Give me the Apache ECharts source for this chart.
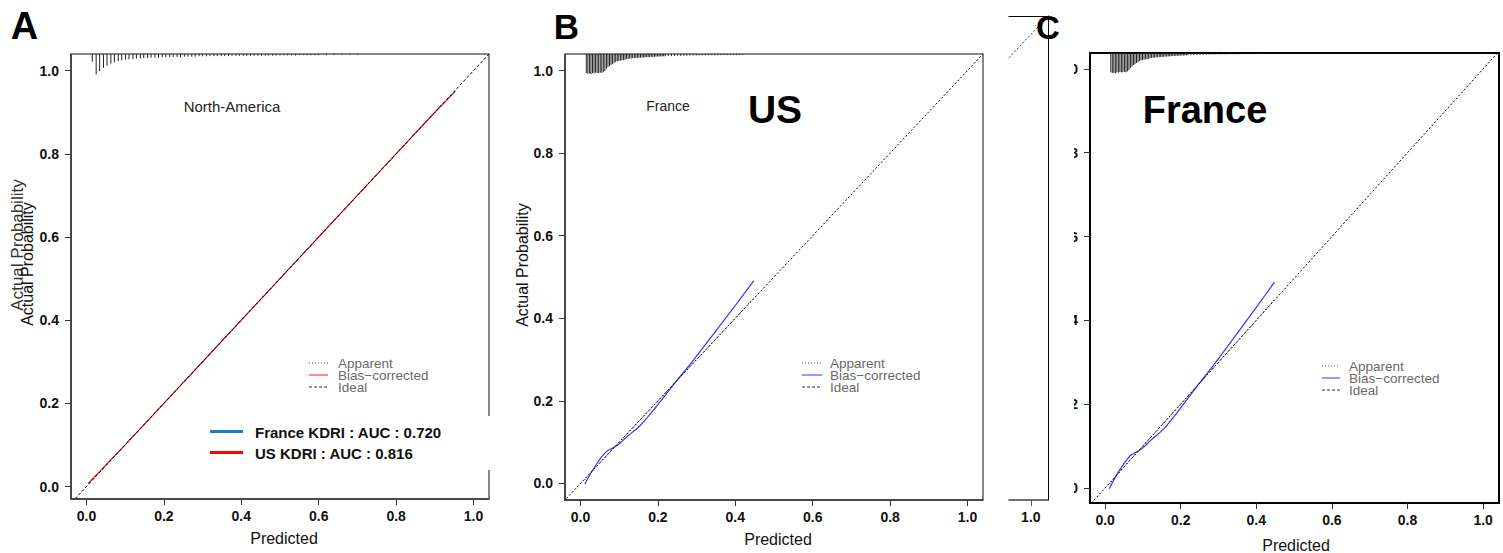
<!DOCTYPE html>
<html>
<head>
<meta charset="utf-8">
<script src="https://cdn.jsdelivr.net/npm/echarts@6/dist/echarts.min.js"></script>
<style>html,body{margin:0;padding:0;background:#fff}#c{width:1503px;height:553px}</style>
</head>
<body>
<div id="c"></div>
<script>
// ---------- data ----------
const tickValues = [0, 0.2, 0.4, 0.6, 0.8, 1.0];
const idealLine = [[-0.1, -0.1], [1.1, 1.1]];

// Panel A : North-America (US KDRI)
const naBiasX = [0.005, 0.1, 0.2, 0.3, 0.4, 0.5, 0.6, 0.7, 0.8, 0.9, 0.953];
const naBiasY = [0.008, 0.1, 0.2, 0.3, 0.4, 0.5, 0.6, 0.7, 0.8, 0.9, 0.950];
const naApparentX = [0.005, 0.2, 0.4, 0.6, 0.8, 0.953];
const naApparentY = [0.007, 0.2, 0.4, 0.6, 0.8, 0.951];
const naRugX = [0.015,0.025,0.034,0.044,0.053,0.063,0.072,0.082,0.091,0.101,0.110,0.120,0.129,0.139,0.148,0.158,0.167,0.177,0.186,0.196,0.205,0.215,0.224,0.234,0.243,0.253,0.262,0.272,0.281,0.291,0.300,0.310,0.319,0.329,0.338,0.348,0.357,0.367,0.376,0.386,0.395,0.405,0.414,0.424,0.433,0.443,0.452,0.462,0.471,0.481,0.490,0.500,0.510,0.520,0.530,0.540,0.550,0.560,0.570,0.580,0.590,0.600,0.620,0.640,0.660,0.680,0.700];
const naRugLen = [0.0185,0.049,0.041,0.033,0.028,0.023,0.020,0.017,0.015,0.0137,0.0127,0.012,0.0113,0.0103,0.0096,0.0096,0.0089,0.0089,0.0089,0.008,0.008,0.008,0.0072,0.0072,0.0072,0.0065,0.0065,0.0065,0.0065,0.0055,0.0055,0.0055,0.005,0.005,0.005,0.005,0.005,0.005,0.0045,0.0045,0.0045,0.0045,0.0045,0.004,0.004,0.004,0.004,0.004,0.004,0.004,0.0035,0.0035,0.0035,0.0035,0.0035,0.0035,0.003,0.003,0.003,0.003,0.003,0.003,0.003,0.0025,0.0025,0.0025,0.0025];

// Panels B and C : France
const frBiasX = [0.011, 0.026, 0.043, 0.056, 0.069, 0.082, 0.099, 0.120, 0.155, 0.189, 0.240, 0.292, 0.352, 0.400, 0.448];
const frBiasY = [-0.002, 0.024, 0.049, 0.066, 0.079, 0.085, 0.095, 0.113, 0.141, 0.178, 0.239, 0.299, 0.372, 0.431, 0.491];
const frApparentX = [0.011, 0.05, 0.1, 0.2, 0.3, 0.4, 0.448];
const frApparentY = [0.009, 0.05, 0.1, 0.2, 0.3, 0.4, 0.450];
const frRugX = [0.015,0.019,0.023,0.027,0.031,0.035,0.039,0.043,0.047,0.051,0.055,0.059,0.063,0.067,0.071,0.075,0.079,0.083,0.087,0.091,0.095,0.099,0.103,0.107,0.111,0.115,0.119,0.123,0.127,0.131,0.135,0.139,0.143,0.147,0.151,0.155,0.159,0.163,0.167,0.171,0.175,0.179,0.183,0.187,0.191,0.195,0.199,0.203,0.207,0.211,0.215,0.219,0.227,0.235,0.243,0.251,0.259,0.267,0.275,0.283,0.291,0.299,0.307,0.315,0.323,0.331,0.339,0.347,0.355,0.363,0.371,0.379,0.387,0.395,0.403,0.411,0.419];
const frRugLen = [0.046,0.048,0.047,0.049,0.046,0.047,0.045,0.046,0.046,0.045,0.046,0.044,0.041,0.036,0.032,0.029,0.027,0.024,0.022,0.019,0.018,0.017,0.016,0.015,0.015,0.014,0.012,0.012,0.011,0.011,0.010,0.010,0.0097,0.0095,0.009,0.009,0.0085,0.0085,0.008,0.008,0.0075,0.0073,0.007,0.007,0.0068,0.0065,0.0063,0.006,0.006,0.0058,0.0055,0.0053,0.005,0.005,0.0048,0.0045,0.0045,0.0043,0.004,0.004,0.0038,0.0036,0.0035,0.0034,0.0033,0.0032,0.003,0.003,0.003,0.0028,0.0028,0.0027,0.0026,0.0025,0.0025,0.0025,0.0025];

// ---------- helpers ----------
const FONT = "'Liberation Sans', Arial, Helvetica, sans-serif";
const zip = (xs, ys) => xs.map((x, i) => [x, ys[i]]);
const fmt = v => v.toFixed(1);

function rugSeries(xi, yi, xs, lens, ymax) {
  return {
    type: 'custom', xAxisIndex: xi, yAxisIndex: yi, silent: true,
    data: zip(xs, lens),
    renderItem: (params, api) => {
      const x = api.value(0), len = api.value(1);
      const a = api.coord([x, ymax]);
      const b = api.coord([x, ymax - len]);
      return { type: 'line', shape: { x1: a[0], y1: a[1], x2: b[0], y2: b[1] },
               style: { stroke: '#222', lineWidth: 1 } };
    }
  };
}
function lineSeries(xi, yi, data, color, type, width, z) {
  return { type: 'line', xAxisIndex: xi, yAxisIndex: yi, data, symbol: 'none', clip: true,
           silent: true, smooth: false, z: z || 2,
           lineStyle: { color, type, width: width || 1 } };
}
function xAxisDef(gi, min, max, lw, color) {
  return {
    type: 'value', gridIndex: gi, min, max, splitLine: { show: false },
    axisLine: { show: true, onZero: false, lineStyle: { color: color || '#333', width: lw || 1.5 } },
    axisTick: { show: true, length: 6, customValues: tickValues, lineStyle: { color: '#333' } },
    axisLabel: { customValues: tickValues, formatter: fmt, margin: 10,
                 fontFamily: FONT, fontWeight: 'bold', fontSize: 14, color: '#111' }
  };
}
function yAxisDef(gi, min, max, lw, color) {
  return {
    type: 'value', gridIndex: gi, min, max, splitLine: { show: false },
    axisLine: { show: true, onZero: false, lineStyle: { color: color || '#333', width: lw || 1.5 } },
    axisTick: { show: true, length: 6, customValues: tickValues, lineStyle: { color: '#333' } },
    axisLabel: { customValues: tickValues, formatter: fmt, margin: 12,
                 fontFamily: FONT, fontWeight: 'bold', fontSize: 14, color: '#111' }
  };
}
function txt(x, y, text, size, weight, color, rot, align) {
  return { type: 'text', x, y, rotation: rot || 0, z: 60,
           style: { text, fill: color || '#111', fontSize: size, fontWeight: weight || 'normal',
                    fontFamily: FONT, align: align || 'center', verticalAlign: 'middle' } };
}
function seg(x1, y1, x2, y2, color, width, dash) {
  return { type: 'line', z: 60, shape: { x1, y1, x2, y2 },
           style: { stroke: color, lineWidth: width, lineDash: dash || null } };
}
function legendBlock(lx1, lx2, tx, y0, y1, y2, biasColor) {
  return [
    seg(lx1, y0, lx2, y0, '#555', 1, [1, 2]),
    seg(lx1, y1, lx2, y1, biasColor, 1),
    seg(lx1, y2, lx2, y2, '#333', 1, [3, 2]),
    txt(tx, y0, 'Apparent', 13.5, 'normal', '#6a6a6a', 0, 'left'),
    txt(tx, y1, 'Bias\u2212corrected', 13.5, 'normal', '#6a6a6a', 0, 'left'),
    txt(tx, y2, 'Ideal', 13.5, 'normal', '#6a6a6a', 0, 'left')
  ];
}

const RED = '#ff1a1a', BLUE = '#3535ff';
const YA = [-0.03, 1.04], YB = [-0.04, 1.04], YC = [-0.036, 1.038];

const option = {
  animation: false,
  backgroundColor: '#fff',
  grid: [
    { left: 71, top: 54, width: 418, height: 445, show: true, borderColor: '#111', borderWidth: 1 },
    { left: 565, top: 54, width: 418, height: 446, show: true, borderColor: '#111', borderWidth: 1 },
    { left: 1090, top: 53, width: 409, height: 450, show: true, borderColor: '#000', borderWidth: 2 },
    { left: 1009, top: 16, width: 39, height: 484, show: false }
  ],
  xAxis: [
    xAxisDef(0, -0.04, 1.04),
    xAxisDef(1, -0.04, 1.04),
    xAxisDef(2, -0.04, 1.042, 2, '#000'),
    Object.assign(xAxisDef(3, 0.944, 1.044), {
      axisTick: { show: true, length: 6, customValues: [1.0], lineStyle: { color: '#555' } },
      axisLabel: { customValues: [1.0], formatter: fmt, margin: 10, fontFamily: FONT, fontWeight: 'bold', fontSize: 14, color: '#111' },
      axisLine: { show: true, onZero: false, lineStyle: { color: '#444', width: 1.5 } }
    }),
    { type: 'value', gridIndex: 3, min: 0.944, max: 1.044, position: 'top', splitLine: { show: false },
      axisLine: { show: true, onZero: false, lineStyle: { color: '#000', width: 1 } },
      axisTick: { show: false }, axisLabel: { show: false } }
  ],
  yAxis: [
    yAxisDef(0, YA[0], YA[1]),
    yAxisDef(1, YB[0], YB[1]),
    yAxisDef(2, YC[0], YC[1], 2, '#000'),
    { type: 'value', gridIndex: 3, min: -0.13, max: 1.045, position: 'right', splitLine: { show: false },
      axisLine: { show: true, onZero: false, lineStyle: { color: '#000', width: 1 } },
      axisTick: { show: false }, axisLabel: { show: false } }
  ],
  series: [
    // A
    rugSeries(0, 0, naRugX, naRugLen, YA[1]),
    lineSeries(0, 0, zip(naBiasX, naBiasY), RED, 'solid', 1.2, 2),
    lineSeries(0, 0, zip(naApparentX, naApparentY), '#333', [1, 2], 1, 3),
    lineSeries(0, 0, idealLine, '#000', [3, 2], 1, 4),
    // B
    rugSeries(1, 1, frRugX, frRugLen, YB[1]),
    Object.assign(lineSeries(1, 1, zip(frBiasX, frBiasY), BLUE, 'solid', 1.2, 2), { smooth: 0.25 }),
    lineSeries(1, 1, zip(frApparentX, frApparentY), '#222', [1, 2], 1, 3),
    lineSeries(1, 1, idealLine, '#000', [2, 2], 1, 4),
    // C
    rugSeries(2, 2, frRugX, frRugLen, YC[1]),
    Object.assign(lineSeries(2, 2, zip(frBiasX, frBiasY), BLUE, 'solid', 1.2, 2), { smooth: 0.25 }),
    lineSeries(2, 2, zip(frApparentX, frApparentY), '#222', [1, 2], 1, 3),
    lineSeries(2, 2, idealLine, '#000', [2, 2], 1, 4),
    // cropped fragment left of C
    lineSeries(3, 3, idealLine, '#333', [2, 2])
  ],
  graphic: { elements: [
    // panel letters
    txt(24.5, 26, 'A', 38, 'bold', '#000'),
    txt(566.5, 26, 'B', 35, 'bold', '#000'),
    txt(1048, 27, 'C', 33, 'bold', '#000'),
    // annotations inside panels
    txt(232, 106, 'North-America', 15, 'normal', '#222'),
    txt(668, 106, 'France', 14, 'normal', '#222'),
    txt(775, 109, 'US', 39, 'bold', '#000'),
    txt(1205, 110, 'France', 38, 'bold', '#000'),
    // axis titles
    txt(284, 538, 'Predicted', 16, 'normal', '#111'),
    txt(778, 539, 'Predicted', 16, 'normal', '#111'),
    txt(1296, 545, 'Predicted', 16, 'normal', '#111'),
    txt(17, 245, 'Actual Probability', 17, 'normal', '#333', Math.PI / 2),
    txt(27, 264, 'Actual Probability', 16, 'normal', '#111', Math.PI / 2),
    txt(522, 265, 'Actual Probability', 16, 'normal', '#111', Math.PI / 2),
    // white cover that hides C's y tick labels (cropped in source)
    { type: 'rect', z: 55, shape: { x: 1052, y: 45, width: 22, height: 470 }, style: { fill: '#fff' } },
    // legends
    ...legendBlock(309, 328, 338, 363, 375, 387, RED),
    ...legendBlock(802, 822, 830, 363, 375, 387, BLUE),
    ...legendBlock(1322, 1340, 1349, 366, 378, 390, BLUE),
    // AUC box in panel A
    { type: 'rect', z: 55, shape: { x: 198, y: 416, width: 294, height: 54 }, style: { fill: '#fff' } },
    seg(210, 431.5, 243, 431.5, '#1f78c8', 3),
    seg(210, 452.5, 243, 452.5, '#ff0000', 3),
    txt(255, 432, 'France KDRI : AUC : 0.720', 15, 'bold', '#111', 0, 'left'),
    txt(255, 453, 'US KDRI : AUC : 0.816', 15, 'bold', '#111', 0, 'left')
  ] }
};

const chart = echarts.init(document.getElementById('c'), null, { renderer: 'svg' });
chart.setOption(option);
</script>
</body>
</html>
